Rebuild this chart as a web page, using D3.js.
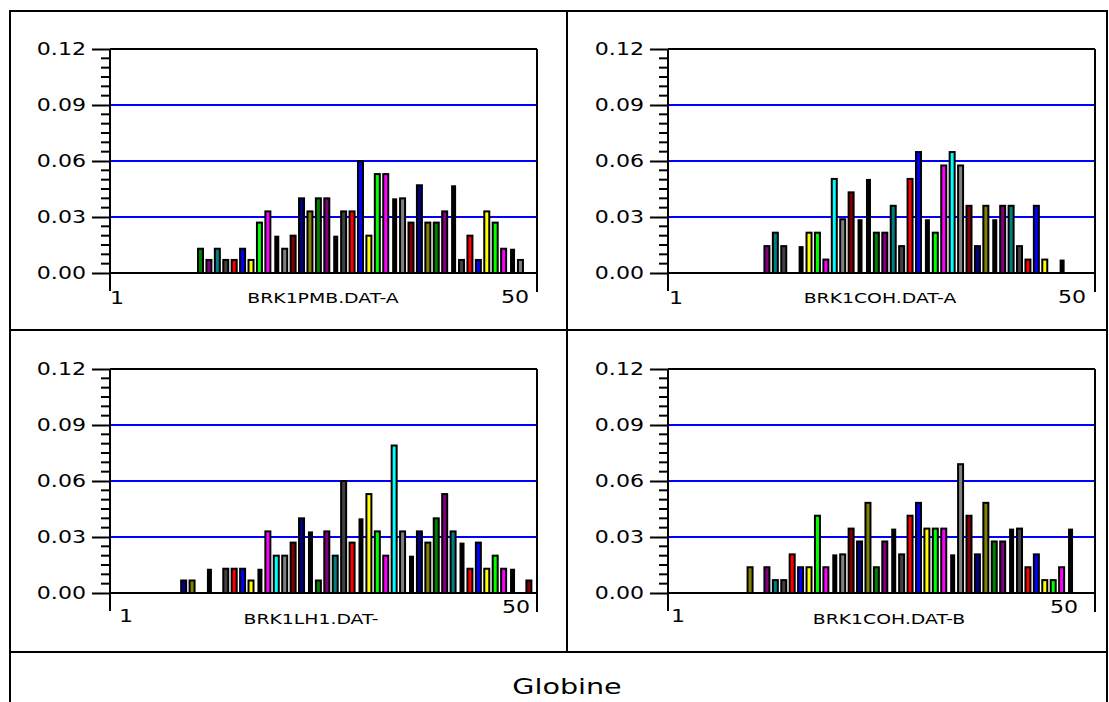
<!DOCTYPE html>
<html>
<head>
<meta charset="utf-8">
<script src="https://cdn.jsdelivr.net/npm/d3@7"></script>
<style>
  body { margin: 0; background: #fff; }
  svg text { font-family: "DejaVu Sans", Verdana, sans-serif; fill: #000; }
</style>
</head>
<body>
<svg id="chart" width="1109" height="702"></svg>
<script>
// colour codes used by the bars
const palette = {
    g: '#008000', p: '#800080', t: '#008080', d: '#404040', r: '#ff0000',
    b: '#0000ff', y: '#ffff00', l: '#00ff00', m: '#ff00ff', k: '#000000',
    a: '#808080', R: '#800000', n: '#000080', o: '#808000', c: '#00ffff'
};

const yTicks = [0, 0.03, 0.06, 0.09, 0.12];
const yTickLabels = ['0.00', '0.03', '0.06', '0.09', '0.12'];

// panel 1: BRK1PMB.DAT-A  (positions 11..49)
const pmbPos = d3.range(11, 50);
const pmbVal = [0.013, 0.007, 0.013, 0.007, 0.007, 0.013, 0.007, 0.027, 0.033, 0.020,
                0.013, 0.020, 0.040, 0.033, 0.040, 0.040, 0.020, 0.033, 0.033, 0.060,
                0.020, 0.053, 0.053, 0.040, 0.040, 0.027, 0.047, 0.027, 0.027, 0.033,
                0.047, 0.007, 0.020, 0.007, 0.033, 0.027, 0.013, 0.013, 0.007];
const pmbCol = 'gptdrbylmkaRnogpkdrbylmkaRnogpkdrbylmka'.split('');

// panel 2: BRK1COH.DAT-A
const cohAPos = [12, 13, 14, 16, 17, 18, 19, 20, 21, 22, 23, 24, 25, 26, 27, 28, 29, 30,
                 31, 32, 33, 34, 35, 36, 37, 38, 39, 40, 41, 42, 43, 44, 45, 47];
const cohAVal = [0.0144, 0.0216, 0.0144, 0.0144, 0.0216, 0.0216, 0.0072, 0.0504, 0.0288, 0.0432,
                 0.0288, 0.0504, 0.0216, 0.0216, 0.036, 0.0144, 0.0504, 0.0648, 0.0288, 0.0216,
                 0.0576, 0.0648, 0.0576, 0.036, 0.0144, 0.036, 0.0288, 0.036, 0.036, 0.0144,
                 0.0072, 0.036, 0.0072, 0.0072];
const cohACol = 'ptdkylmcaRkkgptdrbklmcaRnokptdrbyk'.split('');

// panel 3: BRK1LH1.DAT-
const lh1Pos = [9, 10, 12, 14, 15, 16, 17, 18, 19, 20, 21, 22, 23, 24, 25, 26, 27, 28, 29, 30,
                31, 32, 33, 34, 35, 36, 37, 38, 39, 40, 41, 42, 43, 44, 45, 46, 47, 48, 50];
const lh1Val = [0.0067, 0.0067, 0.013, 0.013, 0.013, 0.013, 0.0067, 0.013, 0.033, 0.020,
                0.020, 0.027, 0.040, 0.033, 0.0067, 0.033, 0.020, 0.060, 0.027, 0.040,
                0.053, 0.033, 0.020, 0.079, 0.033, 0.020, 0.033, 0.027, 0.040, 0.053,
                0.033, 0.027, 0.013, 0.027, 0.013, 0.020, 0.013, 0.013, 0.0067];
const lh1Col = 'nokdrbykmcaRnkgptdrkylmcaknogptkrbylmkR'.split('');

// panel 4: BRK1COH.DAT-B
const cohBPos = [10, 12, 13, 14, 15, 16, 17, 18, 19, 20, 21, 22, 23, 24, 25, 26, 27, 28, 29,
                 30, 31, 32, 33, 34, 35, 36, 37, 38, 39, 40, 41, 42, 43, 44, 45, 46, 47, 48];
const cohBVal = [0.0138, 0.0138, 0.0069, 0.0069, 0.0207, 0.0138, 0.0138, 0.0414, 0.0138, 0.0207,
                 0.0207, 0.0345, 0.0276, 0.0483, 0.0138, 0.0276, 0.0345, 0.0207, 0.0414, 0.0483,
                 0.0345, 0.0345, 0.0345, 0.0207, 0.069, 0.0414, 0.0207, 0.0483, 0.0276, 0.0276,
                 0.0345, 0.0345, 0.0138, 0.0207, 0.0069, 0.0069, 0.0138, 0.0345];
const cohBCol = 'optdrbylmkaRnogpkdrbylmkaRnogpkdrbylmk'.split('');

const panelNames = ['BRK1PMB.DAT-A', 'BRK1COH.DAT-A', 'BRK1LH1.DAT-', 'BRK1COH.DAT-B'];
const chartTitle = 'Globine';

const panels = [
    { name: panelNames[0], pos: pmbPos, val: pmbVal, col: pmbCol, dx: 0, dy: 0,
      one: [117, 304], fifty: [529, 303], title: [323, 303] },
    { name: panelNames[1], pos: cohAPos, val: cohAVal, col: cohACol, dx: 558, dy: 0,
      one: [676, 304], fifty: [1086, 303], title: [880, 303] },
    { name: panelNames[2], pos: lh1Pos, val: lh1Val, col: lh1Col, dx: 0, dy: 320,
      one: [126, 622], fifty: [530, 613], title: [311, 624] },
    { name: panelNames[3], pos: cohBPos, val: cohBVal, col: cohBCol, dx: 558, dy: 320,
      one: [678, 622], fifty: [1078, 613], title: [889, 624] }
];

const svg = d3.select('#chart');

// text drawn slightly stretched sideways, like the original's wide font
function wideText(sel, x, y, str, size, anchor) {
    return sel.append('text')
        .attr('transform', `translate(${x},${y}) scale(1.3,1)`)
        .attr('text-anchor', anchor || 'middle')
        .style('font-size', size + 'px')
        .text(str);
}

// frame and dividers
const frame = svg.append('g').attr('stroke', '#000').attr('stroke-width', 2).attr('fill', 'none');
frame.append('path').attr('d', 'M10,702 V11 H1107 V702');
frame.append('line').attr('x1', 10).attr('x2', 1107).attr('y1', 330).attr('y2', 330);
frame.append('line').attr('x1', 10).attr('x2', 1107).attr('y1', 652).attr('y2', 652);
frame.append('line').attr('x1', 567).attr('x2', 567).attr('y1', 11).attr('y2', 652);

wideText(svg, 567, 694, chartTitle, 22);

panels.forEach(p => {
    const left = 110 + p.dx, right = 537 + p.dx;
    const top = 49 + p.dy, bottom = 273 + p.dy;

    const y = d3.scaleLinear().domain([0, 0.12]).range([bottom, top]);
    const x = d3.scaleLinear().domain([1, 51]).range([left + 2.8, left + 2.8 + 50 * 8.42]);

    const g = svg.append('g');

    // blue grid lines
    g.selectAll('line.grid')
        .data(yTicks.filter(t => t > 0 && t < 0.12))
        .enter().append('line')
        .attr('x1', left).attr('x2', right)
        .attr('y1', d => y(d)).attr('y2', d => y(d))
        .attr('stroke', '#0000ff').attr('stroke-width', 2);

    // bars
    const bars = p.pos.map((d, i) => ({ pos: d, v: p.val[i], c: p.col[i] }));
    g.selectAll('rect.bar')
        .data(bars)
        .enter().append('rect')
        .attr('x', d => d.c === 'k' ? x(d.pos) + 1.5 : x(d.pos) + 1)
        .attr('width', 5)
        .attr('y', d => y(d.v))
        .attr('height', d => y(0) - y(d.v))
        .attr('fill', d => palette[d.c])
        .attr('stroke', d => d.c === 'k' ? 'none' : '#000')
        .attr('stroke-width', 2);

    // plot frame
    const ax = g.append('g').attr('stroke', '#000').attr('stroke-width', 2).attr('fill', 'none');
    ax.append('line').attr('x1', left).attr('x2', right).attr('y1', top).attr('y2', top);
    ax.append('line').attr('x1', left).attr('x2', right).attr('y1', bottom).attr('y2', bottom);
    ax.append('line').attr('x1', left).attr('x2', left).attr('y1', top).attr('y2', bottom + 18);
    ax.append('line').attr('x1', right).attr('x2', right).attr('y1', top).attr('y2', bottom + 19);

    // y axis ticks (labels drawn separately)
    const yAxis = d3.axisLeft(y).tickValues(yTicks).tickSize(18).tickFormat('');
    const ya = g.append('g').attr('transform', `translate(${left},0)`).call(yAxis);
    ya.select('.domain').remove();
    ya.selectAll('line').attr('stroke-width', 2);
    yTicks.forEach((t, i) => {
        wideText(g, left - 24, y(t) + 6, yTickLabels[i], 17, 'end');
    });

    const minor = d3.range(0, 0.1201, 0.005).filter(v => yTicks.every(t => Math.abs(t - v) > 1e-6));
    g.selectAll('line.minor')
        .data(minor)
        .enter().append('line')
        .attr('x1', left - 9).attr('x2', left)
        .attr('y1', d => y(d)).attr('y2', d => y(d))
        .attr('stroke', '#000').attr('stroke-width', 2);

    // x labels and panel title
    wideText(g, p.one[0], p.one[1], '1', 17);
    wideText(g, p.fifty[0], p.fifty[1], '50', 17, 'end');
    wideText(g, p.title[0], p.title[1], p.name, 14.5);
});
</script>
</body>
</html>
